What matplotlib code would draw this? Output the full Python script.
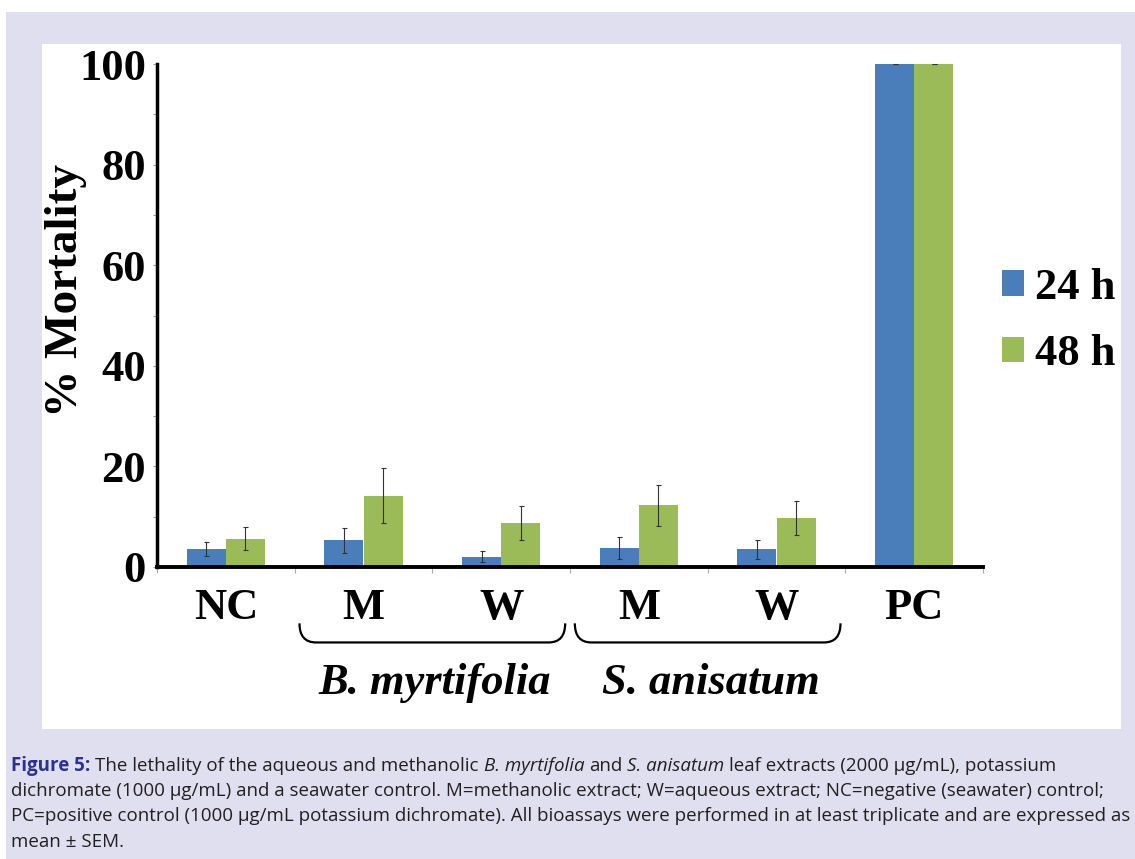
import numpy as np
import matplotlib
matplotlib.use("Agg")
import matplotlib.pyplot as plt
from matplotlib.patches import Rectangle, PathPatch
from matplotlib.path import Path
import matplotlib.transforms as mtransforms

categories = ["NC", "M", "W", "M", "W", "PC"]
mort_24 = [3.5, 5.3, 2.0, 3.8, 3.5, 100]
err_24 = [1.4, 2.5, 1.1, 2.2, 1.9, 0]
mort_48 = [5.6, 14.2, 8.8, 12.3, 9.7, 100]
err_48 = [2.3, 5.4, 3.4, 4.1, 3.4, 0]
series_labels = ["24 h", "48 h"]
species = ["B. myrtifolia", "S. anisatum"]
species_span = [(1, 2), (3, 4)]
yticks = [0, 20, 40, 60, 80, 100]

caption = [
    [("Figure 5:", "head"), (" The lethality of the aqueous and methanolic ", "n"), ("B. myrtifolia", "i"),
     (" and ", "n"), ("S. anisatum", "i"), (" leaf extracts (2000 µg/mL), potassium", "n")],
    [("dichromate (1000 µg/mL) and a seawater control. M=methanolic extract; W=aqueous extract; NC=negative (seawater) control;", "n")],
    [("PC=positive control (1000 µg/mL potassium dichromate). All bioassays were performed in at least triplicate and are expressed as", "n")],
    [("mean ± SEM.", "n")],
]

W, H = 1135, 859
blue = "#4a7ebb"
green = "#9bbb59"
serif = "Liberation Serif"
cap_family = ["Open Sans", "DejaVu Sans"]

fig = plt.figure(figsize=(W / 100, H / 100), dpi=100)
fig.patch.set_facecolor("white")
fig.patches.append(Rectangle((6 / W, 0), 1, (H - 12) / H, transform=fig.transFigure,
                             facecolor="#dfdff0", edgecolor="none", zorder=-3))
fig.patches.append(Rectangle((42 / W, 1 - 729 / H), (1121 - 42) / W, (729 - 44) / H,
                             transform=fig.transFigure, facecolor="white", edgecolor="none", zorder=-2))

ax = fig.add_axes([157 / W, 1 - 567 / H, 826 / W, 503 / H])
ax.set_facecolor("none")

x = np.arange(len(categories))
bw = 0.284
ax.bar(x - bw / 2, mort_24, bw, color=blue, label=series_labels[0], zorder=2)
ax.bar(x + bw / 2, mort_48, bw, color=green, label=series_labels[1], zorder=2)
ax.errorbar(x - bw / 2, mort_24, yerr=err_24, fmt="none", ecolor="#333333", elinewidth=0.8,
            capsize=1.8, capthick=0.8, zorder=3)
ax.errorbar(x + bw / 2, mort_48, yerr=err_48, fmt="none", ecolor="#333333", elinewidth=0.8,
            capsize=1.8, capthick=0.8, zorder=3)

ax.set_xlim(-0.5, len(categories) - 0.5)
ax.set_ylim(0, 100)
for s in ["top", "right"]:
    ax.spines[s].set_visible(False)
ax.spines["left"].set_linewidth(2.5)
ax.spines["bottom"].set_linewidth(2.8)

ax.set_yticks(yticks)
ax.set_yticks(np.arange(0, 101, 10), minor=True)
ax.set_yticklabels([str(v) for v in yticks], fontfamily=serif, fontweight="bold", fontsize=32)
ax.tick_params(axis="y", which="both", length=3, width=0.8, color="#999999", pad=5)

ax.set_xticks(x)
ax.set_xticklabels(categories, fontfamily=serif, fontweight="bold", fontsize=32)
ax.set_xticks(np.arange(-0.5, len(categories), 1), minor=True)
ax.tick_params(axis="x", which="major", length=0, pad=15)
ax.tick_params(axis="x", which="minor", length=4, width=0.8, color="#aaaaaa")

fig.text(66 / W, 1 - 290 / H, "% Mortality", rotation=90, ha="center", va="center",
         fontfamily=serif, fontweight="bold", fontsize=34)

# braces under the species groups
trans = mtransforms.blended_transform_factory(ax.transData, ax.transAxes)
for (a, b), name in zip(species_span, species):
    x0, x1 = a - 0.465, b + 0.465
    ytop, ybot, dx = -0.112, -0.150, 0.12
    verts = [(x0, ytop), (x0, ybot), (x0 + dx, ybot), (x1 - dx, ybot), (x1, ybot), (x1, ytop)]
    codes = [Path.MOVETO, Path.CURVE3, Path.CURVE3, Path.LINETO, Path.CURVE3, Path.CURVE3]
    ax.add_patch(PathPatch(Path(verts, codes), transform=trans, facecolor="none",
                           edgecolor="black", linewidth=1.6, clip_on=False))
    ax.text((a + b) / 2 + 0.02, -0.252, name, transform=trans, ha="center", va="baseline",
            fontfamily=serif, fontweight="bold", fontstyle="italic", fontsize=32)

ax.legend(loc="center left", bbox_to_anchor=(1002 / W, 1 - 321 / H), bbox_transform=fig.transFigure,
          frameon=False, prop={"family": serif, "weight": "bold", "size": 32},
          handlelength=0.5, handleheight=0.5, handletextpad=0.25, labelspacing=0.6,
          borderpad=0, borderaxespad=0)

# caption with mixed styles
renderer = fig.canvas.get_renderer()
styles = {
    "head": dict(fontweight="bold", color="#2e3192"),
    "n": dict(color="#231f20"),
    "i": dict(fontstyle="italic", color="#231f20"),
}
cap_size = 13.5


def text_width(s, **kw):
    t = fig.text(0, 0, s, fontfamily=cap_family, fontsize=cap_size, **kw)
    w = t.get_window_extent(renderer).width
    t.remove()
    return w


space_w = text_width("x x") - text_width("xx")
baselines = [771, 796, 821, 847]
for line, yb in zip(caption, baselines):
    xp = 11
    for s, st in line:
        lead = len(s) - len(s.lstrip(" "))
        trail = len(s) - len(s.rstrip(" "))
        xp += lead * space_w
        t = fig.text(xp / W, 1 - yb / H, s.strip(), fontfamily=cap_family, fontsize=cap_size,
                     va="baseline", ha="left", **styles[st])
        xp += t.get_window_extent(renderer).width + trail * space_w

fig.savefig("out.png", dpi=100)
